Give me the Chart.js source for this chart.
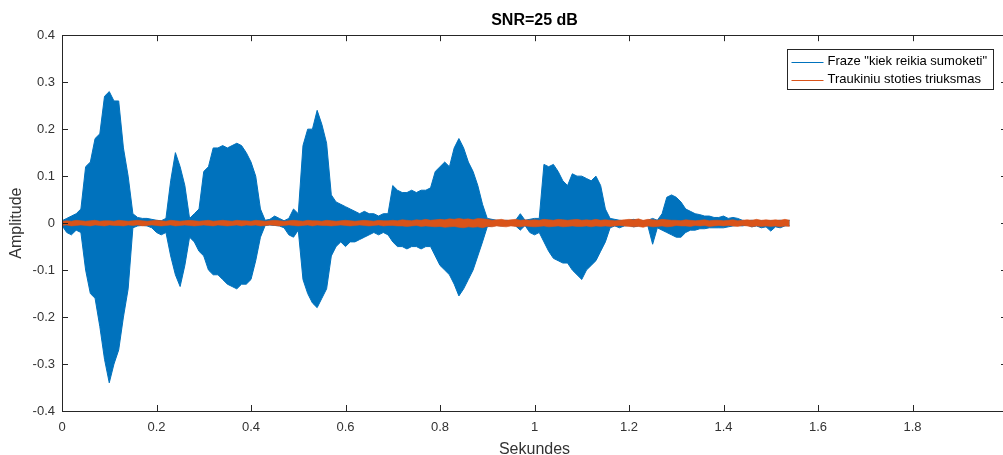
<!DOCTYPE html>
<html>
<head>
<meta charset="utf-8">
<script src="https://cdn.jsdelivr.net/npm/chart.js@4.4.1/dist/chart.umd.min.js"></script>
<style>
html,body{margin:0;padding:0;background:#fff;overflow:hidden;}
#wrap{width:1012px;height:455px;}
</style>
</head>
<body>
<div id="wrap"><canvas id="c" width="1012" height="455"></canvas></div>
<script>
// ---- data ----
const titleText = 'SNR=25 dB';
const xLabel = 'Sekundes';
const yLabel = 'Amplitude';
const seriesNames = ['Fraze "kiek reikia sumoketi"', 'Traukiniu stoties triuksmas'];
const t0 = 0;        // start time (s)
const dt = 0.01;     // envelope step (s)
// speech envelope: upper / lower extremes in each 10 ms step
const speechHi = [
 0.005,0.01,0.015,0.02,0.03,0.12,0.13,0.18,0.19,0.27,
 0.28,0.26,0.26,0.16,0.10,0.02,0.012,0.01,0.01,0.008,
 0.006,0.005,0.01,0.09,0.15,0.12,0.08,0.01,0.02,0.03,
 0.11,0.12,0.16,0.16,0.165,0.16,0.165,0.17,0.165,0.15,
 0.13,0.10,0.03,0.006,0.008,0.015,0.01,0.005,0.01,0.03,
 0.02,0.165,0.20,0.20,0.24,0.21,0.17,0.06,0.045,0.04,
 0.035,0.03,0.025,0.02,0.025,0.02,0.02,0.015,0.02,0.02,
 0.08,0.07,0.065,0.065,0.07,0.065,0.07,0.07,0.075,0.11,
 0.12,0.13,0.12,0.16,0.18,0.16,0.13,0.11,0.08,0.04,
 0.01,0.008,0.006,0.005,0.006,0.005,0.006,0.02,0.006,0.008,
 0.01,0.01,0.125,0.12,0.125,0.11,0.09,0.08,0.105,0.10,
 0.10,0.095,0.09,0.10,0.08,0.03,0.01,0.008,0.006,0.005,
 0.006,0.008,0.006,0.005,0.006,0.01,0.006,0.02,0.055,0.06,
 0.055,0.045,0.03,0.025,0.02,0.018,0.015,0.015,0.012,0.012,
 0.015,0.01,0.012,0.01,0.006,0.005,0.006,0.005,0.005,0.004,
 0.005,0.005,0.006,0.005,0.006
];
const speechLo = [
 -0.005,-0.02,-0.025,-0.015,-0.02,-0.10,-0.15,-0.16,-0.22,-0.29,
 -0.34,-0.30,-0.27,-0.20,-0.14,-0.01,-0.006,-0.005,-0.006,-0.01,
 -0.02,-0.025,-0.02,-0.07,-0.11,-0.135,-0.09,-0.03,-0.04,-0.06,
 -0.07,-0.10,-0.11,-0.11,-0.12,-0.13,-0.135,-0.14,-0.13,-0.13,
 -0.12,-0.08,-0.03,-0.005,-0.004,-0.005,-0.006,-0.01,-0.025,-0.03,
 -0.015,-0.12,-0.15,-0.17,-0.18,-0.16,-0.14,-0.07,-0.05,-0.04,
 -0.05,-0.04,-0.04,-0.035,-0.03,-0.025,-0.02,-0.025,-0.02,-0.025,
 -0.04,-0.05,-0.05,-0.055,-0.05,-0.05,-0.055,-0.05,-0.05,-0.07,
 -0.09,-0.10,-0.11,-0.13,-0.155,-0.14,-0.12,-0.10,-0.07,-0.04,
 -0.008,-0.006,-0.005,-0.006,-0.005,-0.004,-0.006,-0.015,-0.005,-0.02,
 -0.025,-0.02,-0.04,-0.06,-0.075,-0.08,-0.085,-0.085,-0.10,-0.11,
 -0.12,-0.10,-0.09,-0.08,-0.06,-0.04,-0.01,-0.006,-0.01,-0.006,
 -0.005,-0.008,-0.006,-0.005,-0.006,-0.045,-0.01,-0.015,-0.02,-0.025,
 -0.03,-0.03,-0.02,-0.015,-0.015,-0.012,-0.012,-0.01,-0.01,-0.01,
 -0.01,-0.008,-0.006,-0.005,-0.006,-0.004,-0.008,-0.006,-0.01,-0.008,
 -0.017,-0.008,-0.01,-0.006,-0.005
];
// train station noise: upper / lower extremes in each 10 ms step
const noiseHi = [
 0.004,0.005,0.004,0.006,0.005,0.004,0.005,0.006,0.004,0.005,
 0.005,0.004,0.006,0.005,0.004,0.005,0.006,0.005,0.004,0.005,
 0.006,0.005,0.004,0.006,0.005,0.004,0.005,0.006,0.005,0.004,
 0.005,0.006,0.004,0.005,0.006,0.005,0.004,0.006,0.005,0.005,
 0.004,0.006,0.005,0.004,0.005,0.006,0.005,0.004,0.005,0.006,
 0.005,0.004,0.006,0.005,0.005,0.004,0.006,0.005,0.004,0.005,
 0.006,0.005,0.004,0.005,0.006,0.005,0.004,0.006,0.005,0.005,
 0.006,0.005,0.007,0.006,0.005,0.007,0.006,0.008,0.006,0.007,
 0.008,0.007,0.009,0.008,0.010,0.008,0.009,0.007,0.010,0.009,
 0.008,0.006,0.007,0.008,0.006,0.007,0.008,0.006,0.007,0.006,
 0.007,0.006,0.008,0.007,0.006,0.008,0.007,0.006,0.007,0.008,
 0.006,0.007,0.006,0.008,0.006,0.007,0.006,0.005,0.006,0.007,
 0.008,0.007,0.009,0.006,0.008,0.007,0.006,0.008,0.007,0.006,
 0.006,0.005,0.007,0.006,0.005,0.006,0.007,0.005,0.006,0.006,
 0.005,0.006,0.007,0.005,0.006,0.007,0.006,0.008,0.006,0.007,
 0.006,0.007,0.006,0.008,0.006
];
const noiseLo = [
 -0.005,-0.004,-0.006,-0.005,-0.004,-0.005,-0.006,-0.004,-0.005,-0.006,
 -0.004,-0.005,-0.005,-0.006,-0.004,-0.005,-0.004,-0.006,-0.005,-0.004,
 -0.005,-0.006,-0.005,-0.004,-0.006,-0.005,-0.004,-0.005,-0.006,-0.005,
 -0.004,-0.005,-0.006,-0.004,-0.005,-0.006,-0.005,-0.004,-0.006,-0.004,
 -0.005,-0.004,-0.006,-0.005,-0.004,-0.005,-0.006,-0.005,-0.004,-0.005,
 -0.006,-0.005,-0.004,-0.006,-0.004,-0.005,-0.005,-0.006,-0.005,-0.004,
 -0.005,-0.006,-0.005,-0.004,-0.005,-0.006,-0.005,-0.004,-0.006,-0.005,
 -0.005,-0.006,-0.006,-0.007,-0.006,-0.005,-0.007,-0.006,-0.007,-0.008,
 -0.007,-0.009,-0.008,-0.007,-0.009,-0.010,-0.008,-0.009,-0.008,-0.010,
 -0.007,-0.008,-0.006,-0.007,-0.008,-0.006,-0.007,-0.008,-0.006,-0.007,
 -0.008,-0.007,-0.006,-0.008,-0.007,-0.006,-0.008,-0.007,-0.006,-0.007,
 -0.007,-0.006,-0.008,-0.006,-0.007,-0.006,-0.007,-0.006,-0.005,-0.006,
 -0.007,-0.008,-0.007,-0.009,-0.006,-0.008,-0.007,-0.006,-0.008,-0.007,
 -0.005,-0.006,-0.006,-0.007,-0.005,-0.006,-0.005,-0.007,-0.006,-0.005,
 -0.006,-0.005,-0.006,-0.007,-0.005,-0.006,-0.008,-0.006,-0.007,-0.006,
 -0.007,-0.006,-0.008,-0.006,-0.007
];
const xTickStep = 0.2, xMin = 0, xMax = 2;
const yTickStep = 0.1, yMin = -0.4, yMax = 0.4;

const BLUE = '#0072BD', ORANGE = '#D95319';

function series(vals){
  return vals.map((v, i) => ({x: t0 + i*dt, y: v}));
}

const AXIS = '#262626';
const FONT = '"Liberation Sans", Arial, Helvetica, sans-serif';

const boxPlugin = {
  id: 'matlabBox',
  afterDraw(chart){
    const {ctx, chartArea:{left,right,top,bottom}, scales:{x,y}} = chart;
    ctx.save();
    ctx.strokeStyle = AXIS; ctx.lineWidth = 1;
    ctx.beginPath();
    ctx.rect(Math.round(left)+0.5, Math.round(top)+0.5, Math.round(right-left), Math.round(bottom-top));
    ctx.stroke();
    const L = 6;
    ctx.beginPath();
    x.ticks.forEach(tk => {
      const px = Math.round(x.getPixelForValue(tk.value)) + 0.5;
      ctx.moveTo(px, bottom); ctx.lineTo(px, bottom - L);
      ctx.moveTo(px, top); ctx.lineTo(px, top + L);
    });
    y.ticks.forEach(tk => {
      const py = Math.round(y.getPixelForValue(tk.value)) + 0.5;
      ctx.moveTo(left, py); ctx.lineTo(left + L, py);
      ctx.moveTo(right, py); ctx.lineTo(right - L, py);
    });
    ctx.stroke();
    // legend
    const lx = Math.round(right) - 220 + 0.5, ly = Math.round(top) + 14 + 0.5, lw = 206, lh = 40;
    ctx.fillStyle = '#fff';
    ctx.fillRect(lx, ly, lw, lh);
    ctx.strokeStyle = AXIS;
    ctx.strokeRect(lx, ly, lw, lh);
    ctx.font = '13px ' + FONT;
    ctx.textBaseline = 'middle';
    [BLUE, ORANGE].forEach((col, i) => {
      const yy = ly + 12 + i*18;
      ctx.strokeStyle = col; ctx.lineWidth = 1;
      ctx.beginPath(); ctx.moveTo(lx + 4, Math.round(yy)+0.5); ctx.lineTo(lx + 36, Math.round(yy)+0.5); ctx.stroke();
      ctx.fillStyle = '#000';
      ctx.fillText(seriesNames[i], lx + 40, yy);
    });
    ctx.restore();
  }
};

new Chart(document.getElementById('c'), {
  type: 'line',
  data: {
    datasets: [
      { label: seriesNames[0], data: series(speechHi), borderColor: BLUE, backgroundColor: BLUE, borderWidth: 1, pointRadius: 0, tension: 0, fill: '+1', order: 2 },
      { label: seriesNames[0], data: series(speechLo), borderColor: BLUE, backgroundColor: BLUE, borderWidth: 1, pointRadius: 0, tension: 0, fill: false, order: 2 },
      { label: seriesNames[1], data: series(noiseHi), borderColor: ORANGE, backgroundColor: ORANGE, borderWidth: 0.6, pointRadius: 0, tension: 0, fill: '+1', order: 1 },
      { label: seriesNames[1], data: series(noiseLo), borderColor: ORANGE, backgroundColor: ORANGE, borderWidth: 0.6, pointRadius: 0, tension: 0, fill: false, order: 1 }
    ]
  },
  options: {
    responsive: false,
    devicePixelRatio: 1,
    animation: false,
    events: [],
    layout: { padding: { left: 0, right: 5, top: 0, bottom: 0 } },
    plugins: {
      legend: { display: false },
      tooltip: { enabled: false },
      filler: { drawTime: 'beforeDatasetDraw' },
      title: {
        display: true, text: titleText, color: '#000', fullSize: false,
        font: { family: FONT, size: 16, weight: 'bold' },
        padding: { top: 11, bottom: 5 }
      }
    },
    scales: {
      x: {
        type: 'linear', min: xMin, max: xMax,
        afterFit(s){ s.height = 44; s.paddingLeft = 0; s.paddingRight = 0; },
        grid: { display: false, drawTicks: false },
        border: { display: false },
        ticks: { stepSize: xTickStep, color: '#333', padding: 9, maxRotation: 0,
          font: { family: FONT, size: 13 },
          callback: v => String(Math.round(v*10)/10) },
        title: { display: true, text: xLabel, color: '#333', font: { family: FONT, size: 16 }, padding: { top: 0, bottom: -4 } }
      },
      y: {
        type: 'linear', min: yMin, max: yMax,
        afterFit(s){ s.width = 62; s.paddingTop = 0; s.paddingBottom = 0; },
        grid: { display: false, drawTicks: false },
        border: { display: false },
        ticks: { stepSize: yTickStep, color: '#333', padding: 7,
          font: { family: FONT, size: 13 },
          callback: v => Math.abs(v) < 1e-9 ? '0' : (Math.round(v*10)/10).toFixed(1) },
        title: { display: true, text: yLabel, color: '#333', font: { family: FONT, size: 16 }, padding: { top: 7, bottom: 0 } }
      }
    }
  },
  plugins: [boxPlugin]
});
</script>
</body>
</html>
